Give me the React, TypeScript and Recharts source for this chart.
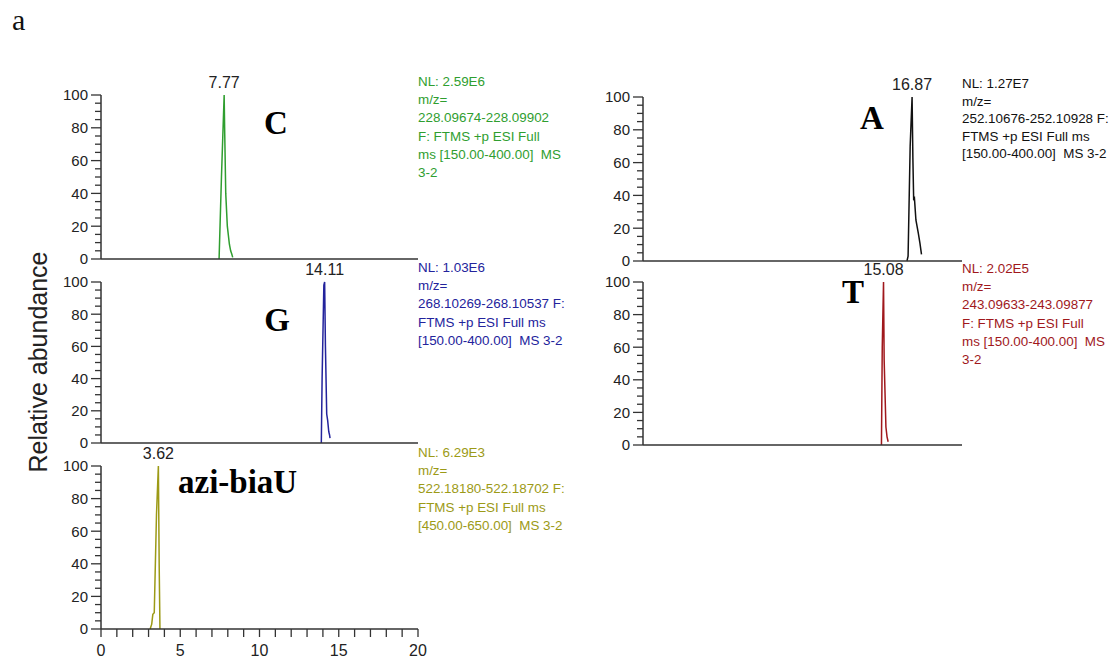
import React from "react";
import { LineChart, Line, XAxis, YAxis, ReferenceDot } from "recharts";

// retention time (min) vs relative abundance (%)
const cTrace = [
  { t: 7.45, v: 0 }, { t: 7.6, v: 50 }, { t: 7.77, v: 100 }, { t: 7.8, v: 80 },
  { t: 7.87, v: 40 }, { t: 7.97, v: 20 }, { t: 8.1, v: 9 }, { t: 8.18, v: 5 },
  { t: 8.25, v: 3 }, { t: 8.31, v: 1 },
];
const gTrace = [
  { t: 13.9, v: 0 }, { t: 13.95, v: 40 }, { t: 14.06, v: 98 }, { t: 14.11, v: 100 },
  { t: 14.16, v: 60 }, { t: 14.24, v: 18 }, { t: 14.3, v: 14 }, { t: 14.37, v: 7 },
  { t: 14.42, v: 5 }, { t: 14.45, v: 3 },
];
const aziTrace = [
  { t: 3.1, v: 0 }, { t: 3.2, v: 3 }, { t: 3.27, v: 9 }, { t: 3.36, v: 10 },
  { t: 3.5, v: 70 }, { t: 3.62, v: 100 }, { t: 3.67, v: 40 }, { t: 3.72, v: 0 },
];
const aTrace = [
  { t: 16.55, v: 0 }, { t: 16.62, v: 3 }, { t: 16.75, v: 70 }, { t: 16.87, v: 100 },
  { t: 16.92, v: 63 }, { t: 16.97, v: 37 }, { t: 17.02, v: 38 }, { t: 17.11, v: 25 },
  { t: 17.26, v: 17 }, { t: 17.36, v: 11 }, { t: 17.46, v: 4 },
];
const tTrace = [
  { t: 14.95, v: 0 }, { t: 15.0, v: 60 }, { t: 15.08, v: 100 }, { t: 15.12, v: 52 },
  { t: 15.23, v: 11 }, { t: 15.3, v: 5 }, { t: 15.37, v: 2 },
];

const yTicks = [0, 5, 10, 15, 20, 25, 30, 35, 40, 45, 50, 55, 60, 65, 70, 75, 80, 85, 90, 95, 100];
const xTicks = [0, 1, 2, 3, 4, 5, 6, 7, 8, 9, 10, 11, 12, 13, 14, 15, 16, 17, 18, 19, 20];

const cInfo = ["NL: 2.59E6", "m/z=", "228.09674-228.09902", "F: FTMS +p ESI Full", "ms [150.00-400.00]  MS", "3-2"];
const gInfo = ["NL: 1.03E6", "m/z=", "268.10269-268.10537 F:", "FTMS +p ESI Full ms", "[150.00-400.00]  MS 3-2"];
const aziInfo = ["NL: 6.29E3", "m/z=", "522.18180-522.18702 F:", "FTMS +p ESI Full ms", "[450.00-650.00]  MS 3-2"];
const aInfo = ["NL: 1.27E7", "m/z=", "252.10676-252.10928 F:", "FTMS +p ESI Full ms", "[150.00-400.00]  MS 3-2"];
const tInfo = ["NL: 2.02E5", "m/z=", "243.09633-243.09877", "F: FTMS +p ESI Full", "ms [150.00-400.00]  MS", "3-2"];

const AXIS = "#333";
const SANS = "'Liberation Sans', Arial, sans-serif";
const SERIF = "'Liberation Serif', 'Times New Roman', serif";

function YTick({ x, y, payload }: any) {
  const major = payload.value % 20 === 0;
  return (
    <g>
      <line x1={x - (major ? 10 : 6)} x2={x} y1={y} y2={y} stroke={AXIS} strokeWidth={1.3} />
      {major && (
        <text x={x - 13} y={y} dy="0.36em" textAnchor="end" fontSize={15} fill="#222" fontFamily={SANS}>
          {payload.value}
        </text>
      )}
    </g>
  );
}

function XTick({ x, y, payload }: any) {
  const major = payload.value % 5 === 0;
  return (
    <g>
      <line x1={x} x2={x} y1={y} y2={y + 8} stroke={AXIS} strokeWidth={1.3} />
      {major && (
        <text x={x} y={y + 27} textAnchor="middle" fontSize={16} fill="#222" fontFamily={SANS}>
          {payload.value}
        </text>
      )}
    </g>
  );
}

interface PanelProps {
  data: { t: number; v: number }[];
  color: string;
  peak: number;
  left: number;
  top: number;
  width: number;
  height: number;
  showX?: boolean;
}

function Panel({ data, color, peak, left, top, width, height, showX }: PanelProps) {
  const mTop = 26;
  const yW = 45;
  const mRight = 10;
  const xH = showX ? 36 : 10;
  return (
    <div style={{ position: "absolute", left: left - yW, top: top - mTop }}>
      <LineChart
        width={width + yW + mRight}
        height={height + mTop + xH}
        data={data}
        margin={{ top: mTop, right: mRight, bottom: 0, left: 0 }}
      >
        <XAxis
          type="number"
          dataKey="t"
          domain={[0, 20]}
          ticks={xTicks}
          interval={0}
          height={xH}
          tickSize={0}
          tickMargin={0}
          tickLine={false}
          tick={showX ? (p: any) => <XTick {...p} /> : false}
          axisLine={{ stroke: AXIS, strokeWidth: 1.5 }}
        />
        <YAxis
          type="number"
          domain={[0, 100]}
          ticks={yTicks}
          interval={0}
          width={yW}
          tickSize={0}
          tickMargin={0}
          tickLine={false}
          tick={(p: any) => <YTick {...p} />}
          axisLine={{ stroke: AXIS, strokeWidth: 1.5 }}
        />
        <Line
          dataKey="v"
          type="linear"
          stroke={color}
          strokeWidth={1.5}
          dot={false}
          isAnimationActive={false}
        />
        <ReferenceDot
          x={peak}
          y={100}
          r={0}
          stroke="none"
          fill="none"
          label={{ value: peak.toFixed(2), position: "top", offset: 7, fill: "#222", fontSize: 16, fontFamily: SANS }}
        />
      </LineChart>
    </div>
  );
}

function Info({ lines, x, y, color, gap = 18.2 }: { lines: string[]; x: number; y: number; color: string; gap?: number }) {
  return (
    <text fontFamily={SANS} fontSize={13.4} fill={color} style={{ whiteSpace: "pre" }}>
      {lines.map((l, i) => (
        <tspan key={i} x={x} y={y + i * gap}>
          {l}
        </tspan>
      ))}
    </text>
  );
}

export default function App() {
  const green = "#2f9e2f";
  const blue = "#23239c";
  const olive = "#9c9a16";
  const black = "#111";
  const red = "#a0181c";
  return (
    <div style={{ position: "absolute", left: 0, top: 0, width: 1116, height: 659, background: "#fff", fontFamily: SANS }}>
      <Panel data={cTrace} color={green} peak={7.77} left={101} top={95} width={317} height={164} />
      <Panel data={gTrace} color={blue} peak={14.11} left={101} top={282} width={317} height={161} />
      <Panel data={aziTrace} color={olive} peak={3.62} left={101} top={466} width={317} height={163} showX />
      <Panel data={aTrace} color={black} peak={16.87} left={643} top={97} width={319} height={164} />
      <Panel data={tTrace} color={red} peak={15.08} left={643} top={282} width={319} height={163} />
      <svg width={1116} height={659} style={{ position: "absolute", left: 0, top: 0, pointerEvents: "none" }}>
        <text x={12} y={30} fontFamily={SERIF} fontSize={30} fill="#111">a</text>
        <text
          x={38}
          y={362}
          dy="0.35em"
          transform="rotate(-90 38 362)"
          textAnchor="middle"
          fontFamily={SANS}
          fontSize={25}
          fill="#222"
        >
          Relative abundance
        </text>
        <g fontFamily={SERIF} fontWeight="bold" fontSize={33} fill="#000">
          <text x={276} y={134} textAnchor="middle">C</text>
          <text x={277} y={331} textAnchor="middle">G</text>
          <text x={178} y={493}>azi-biaU</text>
          <text x={872} y={129} textAnchor="middle">A</text>
          <text x={853} y={303} textAnchor="middle">T</text>
        </g>
        <Info lines={cInfo} x={418} y={86} color={green} />
        <Info lines={gInfo} x={418} y={272} color={blue} />
        <Info lines={aziInfo} x={418} y={457} color={olive} />
        <Info lines={aInfo} x={962} y={88} color={black} gap={17.6} />
        <Info lines={tInfo} x={962} y={273} color={red} />
      </svg>
    </div>
  );
}
